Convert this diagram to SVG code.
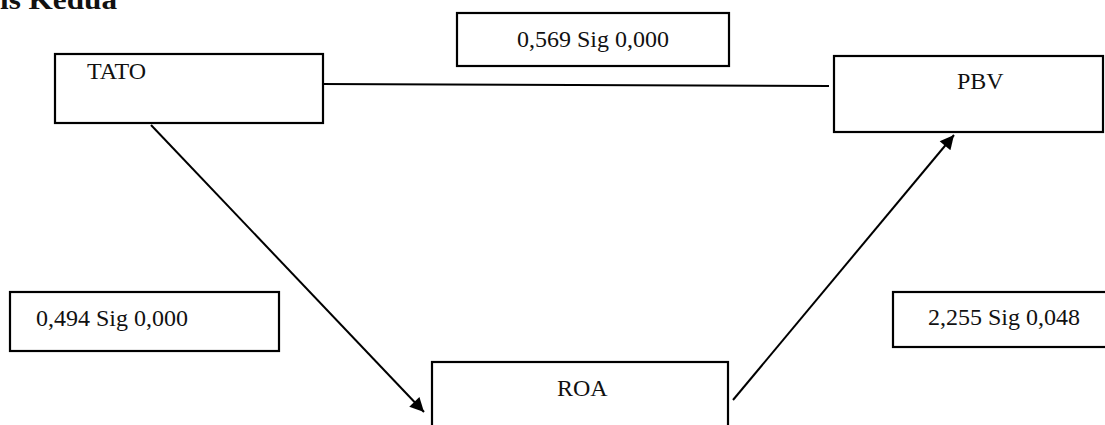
<svg xmlns="http://www.w3.org/2000/svg" width="1105" height="425" viewBox="0 0 1105 425">
  <style>
    .box { fill: #fff; stroke: #000; stroke-width: 2.2; }
    .lbl { font-family: "Liberation Serif", "Times New Roman", serif; font-size: 24px; fill: #111; }
    .conn { stroke: #000; stroke-width: 2; fill: none; }
  </style>
  <defs>
    <marker id="arrow" viewBox="0 0 10 10" refX="10" refY="5" markerWidth="8" markerHeight="7" markerUnits="strokeWidth" orient="auto">
      <path d="M0,0 L10,5 L0,10 z" fill="#000"/>
    </marker>
  </defs>
  <text x="0" y="9" font-family="'Liberation Serif', 'Times New Roman', serif" font-size="28" font-weight="bold" textLength="117" lengthAdjust="spacingAndGlyphs" fill="#111">is Kedua</text>

  <g id="connectors">
    <line class="conn" x1="320" y1="84" x2="829" y2="86"/>
    <line class="conn" x1="151" y1="125" x2="424" y2="412" marker-end="url(#arrow)"/>
    <line class="conn" x1="733" y1="400" x2="954" y2="135" marker-end="url(#arrow)"/>
  </g>

  <g id="node-tato">
    <rect class="box" x="55" y="54" width="268" height="69"/>
    <text class="lbl" x="87" y="79">TATO</text>
  </g>
  <g id="node-pbv">
    <rect class="box" x="834" y="56" width="269" height="76"/>
    <text class="lbl" x="957" y="89">PBV</text>
  </g>
  <g id="node-roa">
    <rect class="box" x="432" y="362" width="296" height="80"/>
    <text class="lbl" x="557" y="396">ROA</text>
  </g>
  <g id="label-tato-pbv">
    <rect class="box" x="457" y="13" width="272" height="53"/>
    <text class="lbl" x="517" y="47">0,569 Sig 0,000</text>
  </g>
  <g id="label-tato-roa">
    <rect class="box" x="10" y="292" width="269" height="59"/>
    <text class="lbl" x="36" y="326">0,494 Sig 0,000</text>
  </g>
  <g id="label-roa-pbv">
    <rect class="box" x="893" y="292" width="230" height="55"/>
    <text class="lbl" x="928" y="325">2,255 Sig 0,048</text>
  </g>
</svg>
